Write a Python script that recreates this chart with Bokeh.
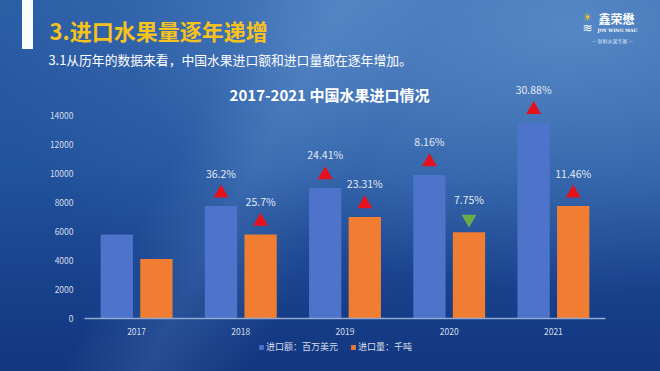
from bokeh.plotting import figure
from bokeh.layouts import column
from bokeh.models import (FactorRange, Range1d, FixedTicker, Label, Legend, LegendItem,
                          ColumnDataSource)
from bokeh.transform import dodge
from bokeh.core.properties import value
from bokeh.embed import file_html
from bokeh.resources import INLINE

# ---- data ----
years = ["2017", "2018", "2019", "2020", "2021"]
import_value = [5800, 7750, 9000, 9900, 13500]     # 进口额：百万美元
import_volume = [4100, 5800, 7000, 5950, 7750]     # 进口量：千吨
value_growth = ["", "36.2%", "24.41%", "8.16%", "30.88%"]
volume_growth = ["", "25.7%", "23.31%", "7.75%", "11.46%"]
value_dir = [None, "up", "up", "up", "up"]
volume_dir = [None, "up", "up", "down", "up"]
y_ticks = [0, 2000, 4000, 6000, 8000, 10000, 12000, 14000]
series_names = ["进口额：百万美元", "进口量：千吨"]

FONT = "Noto Sans CJK SC"
BLUE = "#4d73cb"
ORANGE = "#f07d31"
MARK_GAP = 900
LABEL_GAP = 2280
W = 660

bg = ("linear-gradient(118deg, rgba(255,255,255,0) 30%, rgba(140,185,235,0.16) 40%, rgba(255,255,255,0) 52%),"
      "radial-gradient(ellipse at 88% 8%, rgba(120,170,225,0.55) 0%, rgba(120,170,225,0) 55%),"
      "radial-gradient(ellipse at 45% 0%, rgba(90,140,205,0.30) 0%, rgba(90,140,205,0) 60%),"
      "linear-gradient(#ffffff, #ffffff) 22px 0 / 11px 49px no-repeat,"
      "linear-gradient(180deg, #2c5ea6 0%, #22539d 45%, #173f8a 80%, #12377f 100%)")


def clear(fig):
    fig.border_fill_alpha = 0
    fig.background_fill_alpha = 0
    fig.outline_line_color = None


# ---------- header figure (page coords) ----------
top = figure(width=W, height=70, x_range=Range1d(0, W), y_range=Range1d(70, 0),
             output_backend="svg", toolbar_location=None, min_border=0, frame_align=False)
clear(top)
top.axis.visible = False
top.grid.visible = False


def lab(fig, txt, px, py, size, color, bold=False, align="left", font=FONT):
    fig.add_layout(Label(x=px, y=py, text=txt, text_font=font, text_font_size=size,
                         text_color=color, text_font_style="bold" if bold else "normal",
                         text_align=align, text_baseline="middle"))


lab(top, "3.进口水果量逐年递增", 49, 29, "22px", "#f6c21c", bold=True)
lab(top, "3.1从历年的数据来看，中国水果进口额和进口量都在逐年增加。", 48, 59, "12.8px", "#ffffff")
lab(top, "鑫荣懋", 616, 18, "12px", "#ffffff", bold=True, align="center")
lab(top, "JOY WING MAU", 617, 30, "4.5px", "#ffffff", bold=True, align="center", font="DejaVu Serif")
lab(top, "—  新鲜水果专家  —", 613, 40, "5px", "#d8e2f0", align="center")
lab(top, "☀", 587, 17, "11px", "#f6c21c", align="center", font="DejaVu Sans")
lab(top, "≋", 587, 27, "12px", "#ffffff", align="center", font="DejaVu Sans")

# ---------- chart figure ----------
p = figure(width=W, height=271, x_range=FactorRange(*years), y_range=Range1d(0, 17100),
           output_backend="svg", toolbar_location=None, frame_align=False,
           min_border_left=84, min_border_right=55, min_border_top=0, min_border_bottom=23)
clear(p)
p.grid.grid_line_color = None
p.x_range.range_padding = 0

src = ColumnDataSource(dict(year=years, v=import_value, q=import_volume))
p.vbar(x=dodge("year", -0.19, range=p.x_range), top="v", width=0.31, source=src,
       fill_color=BLUE, line_color=None)
p.vbar(x=dodge("year", 0.19, range=p.x_range), top="q", width=0.31, source=src,
       fill_color=ORANGE, line_color=None)

for vals, labels, dirs, off in [(import_value, value_growth, value_dir, -0.19),
                                (import_volume, volume_growth, volume_dir, 0.19)]:
    xu, yu, xd, yd, lx, ly, lt = [], [], [], [], [], [], []
    for yr, v, lb, d in zip(years, vals, labels, dirs):
        if d is None:
            continue
        if d == "up":
            xu.append(yr); yu.append(v + MARK_GAP)
        else:
            xd.append(yr); yd.append(v + MARK_GAP)
        lx.append(yr); ly.append(v + LABEL_GAP); lt.append(lb)
    if xu:
        p.scatter(x=dodge("x", off, range=p.x_range), y="y", source=ColumnDataSource(dict(x=xu, y=yu)),
                  marker="triangle", size=15, fill_color="#e5121b", line_color=None)
    if xd:
        p.scatter(x=dodge("x", off, range=p.x_range), y="y", source=ColumnDataSource(dict(x=xd, y=yd)),
                  marker="inverted_triangle", size=15, fill_color="#6aab48", line_color=None)
    p.text(x=dodge("x", off, range=p.x_range), y="y", text="t",
           source=ColumnDataSource(dict(x=lx, y=ly, t=lt)),
           text_font=value(FONT), text_font_size="10.5px", text_color="#e3e9f4",
           text_align="center", text_baseline="middle")

p.add_layout(Label(x=329 - 84, y=318 - 94, x_units="screen", y_units="screen",
                   text="2017-2021 中国水果进口情况", text_font=FONT, text_font_size="15px",
                   text_font_style="bold", text_color="#ffffff", text_align="center",
                   text_baseline="middle"))

p.yaxis.ticker = FixedTicker(ticks=y_ticks)
p.yaxis.axis_line_color = None
p.yaxis.major_tick_line_color = None
p.yaxis.minor_tick_line_color = None
p.yaxis.major_label_standoff = 5
p.yaxis.major_label_text_font = FONT
p.yaxis.major_label_text_font_size = "8.5px"
p.yaxis.major_label_text_color = "#d5ddeb"

p.xaxis.axis_line_color = "#93a8cf"
p.xaxis.axis_line_width = 1.5
p.xaxis.major_tick_line_color = None
p.xaxis.minor_tick_line_color = None
p.xaxis.major_label_standoff = 3
p.xaxis.major_label_text_font = FONT
p.xaxis.major_label_text_font_size = "8.5px"
p.xaxis.major_label_text_color = "#d5ddeb"

# ---------- legend figure ----------
lg = figure(width=W, height=30, x_range=Range1d(0, 1), y_range=Range1d(0, 1),
            output_backend="svg", toolbar_location=None, min_border=0, frame_align=False)
clear(lg)
lg.axis.visible = False
lg.grid.visible = False
# swatch-only renderers (their bar lies entirely outside the visible ranges)
k1 = lg.vbar(x=[-5], bottom=[-5], top=[-4], width=0.1, fill_color=BLUE, line_color=None)
k2 = lg.vbar(x=[-5], bottom=[-5], top=[-4], width=0.1, fill_color=ORANGE, line_color=None)
legend = Legend(items=[LegendItem(label=series_names[0], renderers=[k1]),
                       LegendItem(label=series_names[1], renderers=[k2])],
                orientation="horizontal", location=(258, 18),
                glyph_width=6, glyph_height=6, label_standoff=2, spacing=12,
                padding=0, margin=0, background_fill_alpha=0, border_line_alpha=0,
                label_text_font=FONT, label_text_font_size="9px", label_text_color="#d5ddeb",
                label_height=10)
lg.add_layout(legend)

page = column(top, p, lg, spacing=0)
page.styles = {"background": bg}

open("out.html", "w").write(file_html(page, INLINE))
